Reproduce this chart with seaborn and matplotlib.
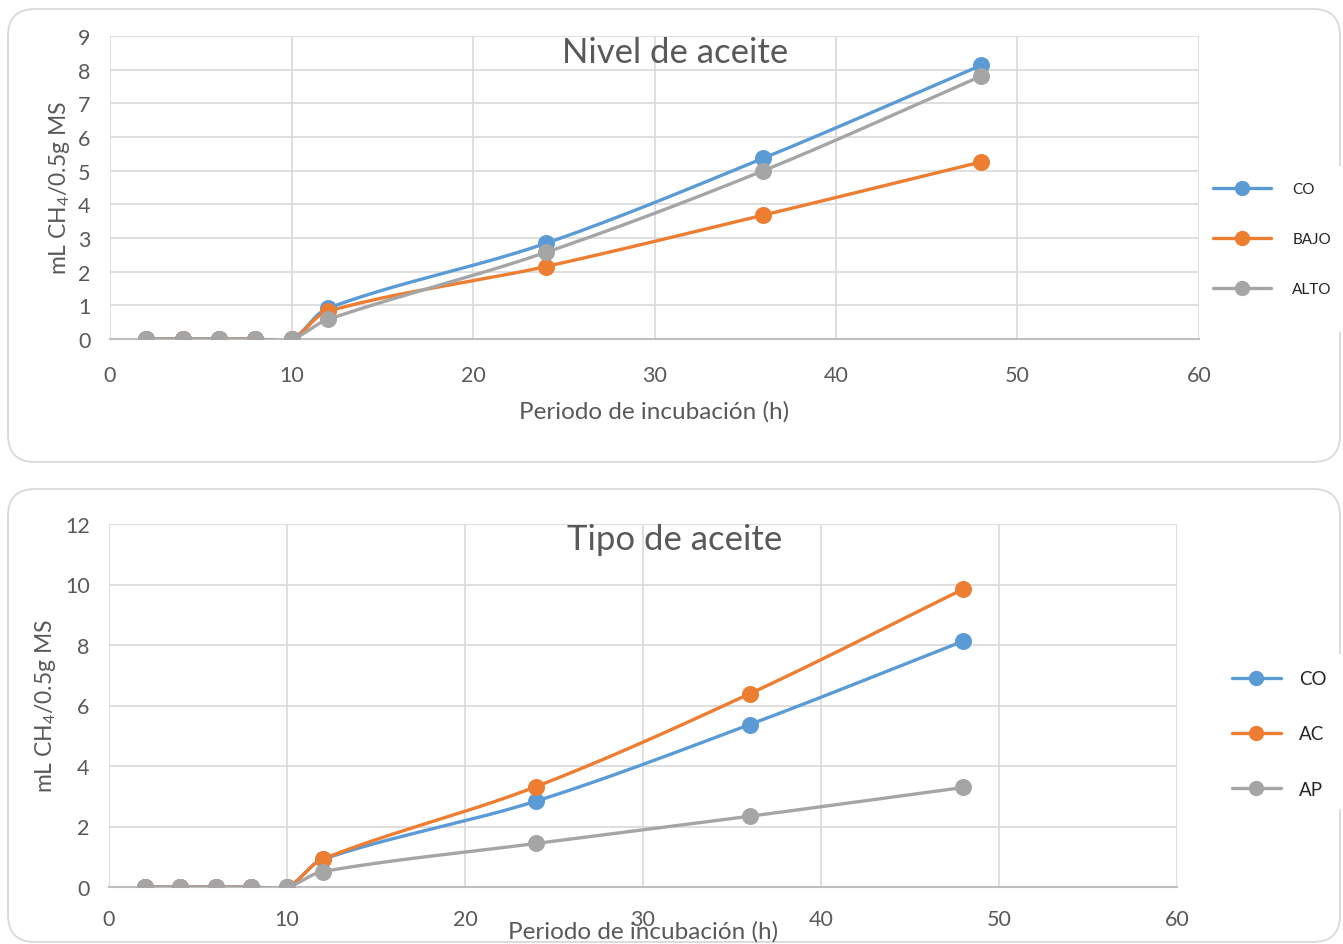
import numpy as np
import pandas as pd
import matplotlib
matplotlib.use("Agg")
import matplotlib.pyplot as plt
from matplotlib.lines import Line2D
from matplotlib.patches import FancyBboxPatch, Rectangle
import seaborn as sns

# ---- data -------------------------------------------------------------
hours = [2, 4, 6, 8, 10, 12, 24, 36, 48]

# Nivel de aceite
nivel_co = [0, 0, 0, 0, 0, 0.91, 2.84, 5.37, 8.13]
nivel_bajo = [0, 0, 0, 0, 0, 0.82, 2.15, 3.68, 5.26]
nivel_alto = [0, 0, 0, 0, 0, 0.58, 2.57, 5.00, 7.81]
nivel_labels = ["CO", "BAJO", "ALTO"]

# Tipo de aceite
tipo_co = [0, 0, 0, 0, 0, 0.91, 2.84, 5.37, 8.13]
tipo_ac = [0, 0, 0, 0, 0, 0.92, 3.32, 6.39, 9.85]
tipo_ap = [0, 0, 0, 0, 0, 0.51, 1.44, 2.34, 3.29]
tipo_labels = ["CO", "AC", "AP"]

colors = ["#5B9BD5", "#ED7D31", "#A5A5A5"]
text_col = "#595959"
grid_col = "#D9D9D9"

sns.set_theme(style="white")
plt.rcParams["font.family"] = ["Lato", "DejaVu Sans"]
plt.rcParams["mathtext.fontset"] = "custom"
plt.rcParams["mathtext.rm"] = "Lato"
plt.rcParams["mathtext.it"] = "Lato:italic"


def smooth_curve(x, y, sx, sy, n=40):
    """Bezier smoothing through the points (tangent from neighbours),
    computed in screen-like units so the shape follows the axis aspect."""
    px = np.asarray(x, float) * sx
    py = np.asarray(y, float) * sy
    pts = np.column_stack([px, py])
    m = len(pts)
    out = [pts[0]]
    for i in range(m - 1):
        p0, p1 = pts[i], pts[i + 1]
        prev = pts[i - 1] if i > 0 else p0
        nxt = pts[i + 2] if i + 2 < m else p1
        seg = np.linalg.norm(p1 - p0)
        t0 = p1 - prev
        t1 = nxt - p0
        t0 = t0 / (np.linalg.norm(t0) or 1)
        t1 = t1 / (np.linalg.norm(t1) or 1)
        c1 = p0 + t0 * seg / 3
        c2 = p1 - t1 * seg / 3
        t = np.linspace(0, 1, n)[1:, None]
        b = ((1 - t) ** 3) * p0 + 3 * ((1 - t) ** 2) * t * c1 \
            + 3 * (1 - t) * t ** 2 * c2 + t ** 3 * p1
        out.extend(b)
    out = np.array(out)
    return out[:, 0] / sx, out[:, 1] / sy


def draw_panel(ax, series, labels, ymax, title, title_xy, sx, sy):
    ax.set_facecolor("none")
    for vals, lab, col in zip(series, labels, colors):
        cx, cy = smooth_curve(hours, vals, sx, sy)
        df = pd.DataFrame({"x": cx, "y": cy})
        sns.lineplot(data=df, x="x", y="y", sort=False, estimator=None,
                     color=col, lw=2.4, ax=ax, zorder=3)
        sns.scatterplot(x=hours, y=vals, color=col, s=150, edgecolor=col,
                        linewidth=0, ax=ax, zorder=4)
    ax.set_xlim(0, 60)
    ax.set_ylim(0, ymax)
    ax.set_xticks(range(0, 61, 10))
    ax.grid(True, color=grid_col, lw=1.2)
    ax.set_axisbelow(True)
    for s in ["top", "right", "left"]:
        ax.spines[s].set_visible(False)
    ax.spines["bottom"].set_color("#BFBFBF")
    ax.spines["bottom"].set_linewidth(1.5)
    ax.tick_params(axis="both", length=0, labelsize=15.5, colors=text_col)
    ax.tick_params(axis="y", pad=14)
    ax.set_xlabel("Periodo de incubación (h)", fontsize=17.5, color=text_col)
    ax.set_ylabel("mL CH$_4$/0.5g MS", fontsize=16.5, color=text_col)
    ax.text(title_xy[0], title_xy[1], title, transform=ax.transAxes,
            ha="center", va="center", fontsize=25, color=text_col)


fig = plt.figure(figsize=(13.43, 9.45), dpi=100)
W, H = 1343, 945

# rounded chart frames, kept behind the axes
for (y0, y1) in [(10, 463), (490, 943)]:
    box = FancyBboxPatch((8 / W, 1 - y1 / H), 1332 / W, (y1 - y0) / H,
                         boxstyle="round,pad=0,rounding_size=0.02",
                         transform=fig.transFigure, facecolor="white",
                         edgecolor="#D9D9D9", lw=1.3, mutation_aspect=W / H,
                         zorder=-10)
    fig.patches.append(box)

# the legend areas sit over the right edge of each frame
for (g0, g1) in [(167, 333), (655, 810)]:
    fig.patches.append(Rectangle((1334 / W, 1 - g1 / H), 9 / W, (g1 - g0) / H,
                                 transform=fig.transFigure, facecolor="white",
                                 edgecolor="none", zorder=-5))

ax1 = fig.add_axes([110 / W, 1 - 340 / H, (1199 - 110) / W, (340 - 37) / H])
ax2 = fig.add_axes([109 / W, 1 - 888 / H, (1177 - 109) / W, (888 - 525) / H])

draw_panel(ax1, [nivel_co, nivel_bajo, nivel_alto], nivel_labels, 9,
           "Nivel de aceite", ((675 - 110) / 1089, (340 - 53) / 303),
           1089 / 60, 303 / 9)
ax1.set_yticks(range(0, 10))
ax1.tick_params(axis="x", pad=18.5)
ax1.xaxis.labelpad = 10.8
ax1.yaxis.labelpad = 4

draw_panel(ax2, [tipo_co, tipo_ac, tipo_ap], tipo_labels, 12,
           "Tipo de aceite", ((675 - 109) / 1068, (888 - 540) / 363),
           1068 / 60, 363 / 12)
ax2.set_yticks(range(0, 13, 2))
ax2.tick_params(axis="x", pad=16)
ax2.xaxis.labelpad = -6.8
ax2.yaxis.labelpad = 5

# legends
h1 = [Line2D([], [], color=c, lw=2.4, marker="o", ms=10) for c in colors]
fig.legend(h1, nivel_labels, loc="center left",
           bbox_to_anchor=(1199 / W, 1 - 240 / H), frameon=False,
           fontsize=11, handlelength=3.8, handletextpad=1.4,
           labelspacing=2.35, labelcolor="#262626")
h2 = [Line2D([], [], color=c, lw=2.4, marker="o", ms=10) for c in colors]
fig.legend(h2, tipo_labels, loc="center left",
           bbox_to_anchor=(1215 / W, 1 - 735 / H), frameon=False,
           fontsize=13.5, handlelength=2.6, handletextpad=1.0,
           labelspacing=2.05, labelcolor="#262626")

fig.savefig("out.png", dpi=100, facecolor="white")
